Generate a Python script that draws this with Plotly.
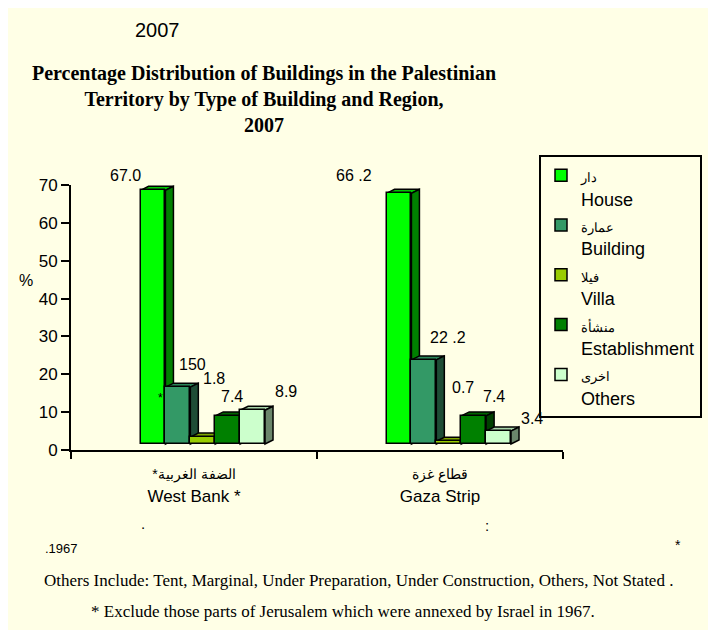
import plotly.graph_objects as go

# ---------------- data ----------------
regions_ar = ["الضفة الغربية*", "قطاع غزة"]
regions_en = ["West Bank *", "Gaza Strip"]
types_ar = ["دار", "عمارة", "فيلا", "منشأة", "اخرى"]
types_en = ["House", "Building", "Villa", "Establishment", "Others"]
west_bank = [67.0, 15.0, 1.8, 7.4, 8.9]
gaza = [66.2, 22.2, 0.7, 7.4, 3.4]
west_bank_labels = ["67.0", "150", "1.8", "7.4", "8.9"]
gaza_labels = ["66 .2", "22 .2", "0.7", "7.4", "3.4"]
y_ticks = [0, 10, 20, 30, 40, 50, 60, 70]

# ---------------- style ----------------
BG = "#FFFFE6"
SANS = "Liberation Sans, Arial, sans-serif"
SERIF = "Liberation Serif, Times New Roman, serif"
front_colors = ["#00FF00", "#339966", "#99CC00", "#008000", "#CCFFCC"]
top_colors = ["#00C800", "#2A8558", "#7FA600", "#006400", "#A8D4A8"]
side_colors = ["#008000", "#1E4D36", "#4D6600", "#004000", "#6B866B"]
BAR_W = 0.1012
FIRST_OFF = -0.1667
DX = 0.0325     # depth in x units
DY = 1.06       # depth in y units
FLOOR = 1.6     # 3D floor offset
# label pixel shifts (x, y) per region/bar
wb_shift = [(-27, 15), (15, 23), (11.5, 59), (4, 19), (33.5, 19)]
gz_shift = [(-44.5, 18), (24, 22), (14, 54), (20.7, 19), (33.7, 13)]

OFF = 8  # page body margin
W, H = 716, 630
L = 71 - OFF
T = 185 - OFF
R = W - (563 - OFF)
B = H - (450 - OFF)
PW, PH = W - L - R, H - T - B


def px(x):  # page pixel -> paper
    return (x - OFF - L) / PW


def py(y):
    return (H - B - (y - OFF)) / PH


def rtl(s):
    return "\u202b" + s + "\u202c"


series = [west_bank, gaza]
labels = [west_bank_labels, gaza_labels]
shifts = [wb_shift, gz_shift]

fig = go.Figure()
shapes = []
annotations = []

for i, (ar, en) in enumerate(zip(types_ar, types_en)):
    xs = [r + FIRST_OFF + i * BAR_W for r in range(len(regions_en))]
    vals = [s[i] for s in series]
    fig.add_trace(go.Bar(
        x=xs, y=vals, base=[FLOOR] * len(vals), width=BAR_W,
        name=f"<span style='font-size:13px'>{ar}</span><br>{en}",
        marker=dict(color=front_colors[i], line=dict(color="black", width=1.5)),
        legendgroup=en, hoverinfo="skip",
    ))
    for r, (xc, v) in enumerate(zip(xs, vals)):
        x0, x1 = xc - BAR_W / 2, xc + BAR_W / 2
        top = FLOOR + v
        shapes.append(dict(
            type="path", xref="x", yref="y", layer="below",
            path=f"M{x0},{top} L{x0+DX},{top+DY} L{x1+DX},{top+DY} L{x1},{top} Z",
            fillcolor=top_colors[i], line=dict(color="black", width=1.5)))
        shapes.append(dict(
            type="path", xref="x", yref="y", layer="below",
            path=f"M{x1},{FLOOR} L{x1},{top} L{x1+DX},{top+DY} L{x1+DX},{FLOOR+DY} Z",
            fillcolor=side_colors[i], line=dict(color="black", width=1.5)))
        sx, sy = shifts[r][i]
        annotations.append(dict(
            x=xc, y=top, xref="x", yref="y", text=labels[r][i], showarrow=False,
            xanchor="center", yanchor="middle", xshift=sx, yshift=sy,
            font=dict(family=SANS, size=16, color="black")))

extra = [
    ("2007", 157, 30, SANS, 20),
    ("%", 26, 280, SANS, 16),
    ("*", 160, 398, SANS, 12),
    (".", 143, 523, SANS, 15),
    (":", 487, 525, SANS, 15),
    (".1967", 61, 548, SANS, 13),
    ("*", 678, 545, SANS, 14),
    ("Others Include: Tent, Marginal, Under Preparation, Under Construction, Others, Not Stated .",
     358, 580, SERIF, 17),
    ("* Exclude those parts of Jerusalem which were annexed by Israel in 1967.",
     343, 611, SERIF, 17),
]
for t, x, y, fam, sz in extra:
    annotations.append(dict(x=px(x), y=py(y), xref="paper", yref="paper", text=t,
                            showarrow=False, xanchor="center", yanchor="middle",
                            font=dict(family=fam, size=sz, color="black")))

fig.update_layout(
    width=W, height=H,
    margin=dict(l=L, r=R, t=T, b=B, autoexpand=False),
    paper_bgcolor=BG, plot_bgcolor=BG,
    bargap=0, barmode="overlay",
    title=dict(
        text="<b>Percentage Distribution of Buildings in the Palestinian<br>"
             "Territory by Type of Building and Region,<br>2007</b>",
        x=(264 - OFF) / W, xref="container", xanchor="center",
        y=1 - 72 / H, yref="container", yanchor="middle",
        font=dict(family=SERIF, size=20, color="black")),
    xaxis=dict(
        range=[-0.5, 1.5], tickvals=[0, 1],
        ticktext=[f"<span style='font-size:14px'>{rtl(a)}</span><br>{e}"
                  for a, e in zip(regions_ar, regions_en)],
        ticks="", showline=True, linecolor="black", linewidth=2,
        showgrid=False, zeroline=False, ticklabelstandoff=7,
        tickfont=dict(family=SANS, size=17, color="black"),
        minor=dict(tickvals=[-0.5, 0.5, 1.5], ticks="outside", ticklen=7,
                   tickcolor="black", tickwidth=2),
    ),
    yaxis=dict(
        range=[0, 70], tickvals=y_ticks, ticks="outside", ticklen=8,
        tickcolor="black", tickwidth=2, showline=True, linecolor="black",
        linewidth=2, showgrid=False, zeroline=False,
        tickfont=dict(family=SANS, size=17, color="black"),
    ),
    legend=dict(
        x=px(539), y=py(155), xanchor="left", yanchor="top",
        bgcolor=BG, bordercolor="black", borderwidth=2,
        font=dict(family=SANS, size=18, color="black"),
        valign="top", tracegroupgap=5, traceorder="normal",
    ),
    shapes=shapes, annotations=annotations,
)

fig.write_html("out.html")
